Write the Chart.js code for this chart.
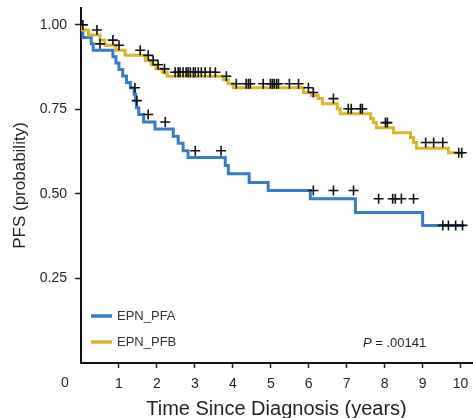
<!DOCTYPE html>
<html><head><meta charset="utf-8">
<script src="https://cdn.jsdelivr.net/npm/chart.js@4.4.1/dist/chart.umd.min.js"></script>
<style>html,body{margin:0;padding:0;background:#fff;}#wrap{width:473px;height:418px;position:relative}</style>
</head><body><div id="wrap"><canvas id="c" width="473" height="418"></canvas></div>
<script>
// ---- data ----
const xTicks = [1, 2, 3, 4, 5, 6, 7, 8, 9, 10];
const yTicks = [0.25, 0.50, 0.75, 1.00];
const seriesNames = ['EPN_PFA', 'EPN_PFB'];
const pValueText = '.00141';

// EPN_PFA: event times and survival after each step
const pfaTimes = [0, 0.05, 0.27, 0.32, 0.84, 0.92, 1.00, 1.10, 1.20, 1.30, 1.40, 1.44, 1.46, 1.52, 1.65, 1.95, 2.43, 2.56, 2.69, 2.82, 3.80, 3.88, 4.43, 4.93, 6.04, 7.23, 9.00, 9.37, 10.10];
const pfaSurv  = [1.0, 0.982, 0.963, 0.944, 0.925, 0.906, 0.887, 0.868, 0.849, 0.830, 0.814, 0.795, 0.776, 0.755, 0.735, 0.713, 0.692, 0.671, 0.650, 0.628, 0.608, 0.584, 0.560, 0.534, 0.510, 0.486, 0.445, 0.407, 0.407];
const pfaCensor = [0.50, 1.42, 1.47, 1.77, 2.22, 3.01, 3.69, 6.12, 6.65, 7.18, 7.84, 8.21, 8.28, 8.44, 8.76, 9.53, 9.68, 9.87, 10.05];

// EPN_PFB
const pfbTimes = [0, 0.20, 0.50, 0.63, 0.92, 1.16, 1.69, 1.85, 1.98, 2.14, 2.27, 3.75, 3.88, 4.01, 5.86, 6.07, 6.25, 6.36, 6.75, 6.83, 7.63, 7.70, 7.78, 8.23, 8.68, 8.76, 8.84, 9.68, 9.79, 10.05];
const pfbSurv  = [1.0, 0.985, 0.970, 0.955, 0.940, 0.925, 0.910, 0.895, 0.882, 0.870, 0.860, 0.848, 0.838, 0.826, 0.814, 0.800, 0.791, 0.782, 0.767, 0.752, 0.737, 0.723, 0.711, 0.696, 0.681, 0.667, 0.652, 0.635, 0.622, 0.622];
const pfbCensor = [0.05, 0.42, 0.84, 1.00, 1.56, 1.77, 1.90, 2.03, 2.20, 2.48, 2.56, 2.61, 2.69, 2.77, 2.82, 2.88, 2.96, 3.01, 3.09, 3.17, 3.27, 3.40, 3.54, 3.83, 4.09, 4.35, 4.41, 4.46, 4.80, 4.99, 5.04, 5.09, 5.15, 5.20, 5.49, 5.73, 5.99, 6.12, 6.65, 7.04, 7.12, 7.36, 7.41, 8.02, 8.07, 9.08, 9.29, 9.53, 9.95, 10.03];

// ---- helpers ----
const BLUE = '#3a7bc8';
const GOLD = '#d8b82a';
const INK = '#231f20';
const FONT = "'Liberation Sans', Arial, Helvetica, sans-serif";

function curve(times, surv) { return times.map((t, i) => ({ x: t, y: surv[i] })); }
function survAt(times, surv, t) {
  let s = surv[0];
  for (let i = 0; i < times.length; i++) { if (times[i] <= t) s = surv[i]; }
  return s;
}
function censorPts(ct, times, surv) { return ct.map(t => ({ x: t, y: survAt(times, surv, t) })); }

const crossStyle = (data) => ({
  type: 'scatter', data, showLine: false, pointStyle: 'cross', pointRadius: 5,
  pointBorderWidth: 1.6, borderColor: '#111', backgroundColor: '#111', pointHoverRadius: 5
});

const overlay = {
  id: 'overlay',
  afterDraw(chart) {
    const ctx = chart.ctx;
    ctx.save();
    ctx.fillStyle = INK;
    ctx.font = '14px ' + FONT;
    ctx.textAlign = 'center'; ctx.textBaseline = 'middle';
    ctx.fillText('0', 65, 383);
    // legend
    const items = [[seriesNames[0], BLUE, 316], [seriesNames[1], GOLD, 342]];
    items.forEach(([name, col, y]) => {
      ctx.strokeStyle = col; ctx.lineWidth = 3.5; ctx.lineCap = 'butt';
      ctx.beginPath(); ctx.moveTo(91, y); ctx.lineTo(112, y); ctx.stroke();
      ctx.fillStyle = '#333'; ctx.font = '13px ' + FONT;
      ctx.textAlign = 'left'; ctx.fillText(name, 117, y + 0.5);
    });
    // p value
    ctx.fillStyle = INK;
    ctx.font = 'italic 13px ' + FONT;
    ctx.textAlign = 'left';
    const pw = ctx.measureText('P').width;
    ctx.fillText('P', 363, 343);
    ctx.font = '13px ' + FONT;
    ctx.fillText(' = ' + pValueText, 363 + pw, 343);
    ctx.restore();
  }
};

new Chart(document.getElementById('c'), {
  type: 'line',
  data: {
    datasets: [
      crossStyle(censorPts(pfbCensor, pfbTimes, pfbSurv)),
      crossStyle(censorPts(pfaCensor, pfaTimes, pfaSurv)),
      { label: seriesNames[1], data: curve(pfbTimes, pfbSurv), borderColor: GOLD, borderWidth: 3, stepped: 'after', pointRadius: 0, fill: false },
      { label: seriesNames[0], data: curve(pfaTimes, pfaSurv), borderColor: BLUE, borderWidth: 3, stepped: 'after', pointRadius: 0, fill: false }
    ]
  },
  options: {
    responsive: false, animation: false, devicePixelRatio: 1,
    layout: { autoPadding: false, padding: { top: 8, right: 1, left: 0, bottom: 0 } },
    plugins: { legend: { display: false }, tooltip: { enabled: false } },
    scales: {
      x: {
        type: 'linear', min: 0, max: 10.3,
        afterBuildTicks: s => { s.ticks = xTicks.map(v => ({ value: v })); },
        afterFit: s => { s.height = 55; s.paddingLeft = 0; s.paddingRight = 0; },
        ticks: { font: { family: FONT, size: 14 }, color: INK, padding: 8, maxRotation: 0, autoSkip: false },
        grid: { display: true, drawOnChartArea: false, drawTicks: true, tickLength: 5, color: INK, tickWidth: 1.5 },
        border: { display: true, color: '#111', width: 2 },
        title: { display: true, text: 'Time Since Diagnosis (years)', color: INK, font: { family: FONT, size: 20 }, padding: { top: 0, bottom: -3 } }
      },
      y: {
        type: 'linear', min: 0, max: 1.05,
        afterBuildTicks: s => { s.ticks = yTicks.map(v => ({ value: v })); },
        afterFit: s => { s.width = 81; s.paddingTop = 0; s.paddingBottom = 0; },
        ticks: { font: { family: FONT, size: 14 }, color: INK, padding: 8, callback: v => Number(v).toFixed(2) },
        grid: { display: true, drawOnChartArea: false, drawTicks: true, tickLength: 6, color: INK, tickWidth: 1.5 },
        border: { display: true, color: '#111', width: 2 },
        title: { display: true, text: 'PFS (probability)', color: INK, font: { family: FONT, size: 17 }, padding: { top: 10, bottom: 0 } }
      }
    }
  },
  plugins: [overlay]
});
</script></body></html>
